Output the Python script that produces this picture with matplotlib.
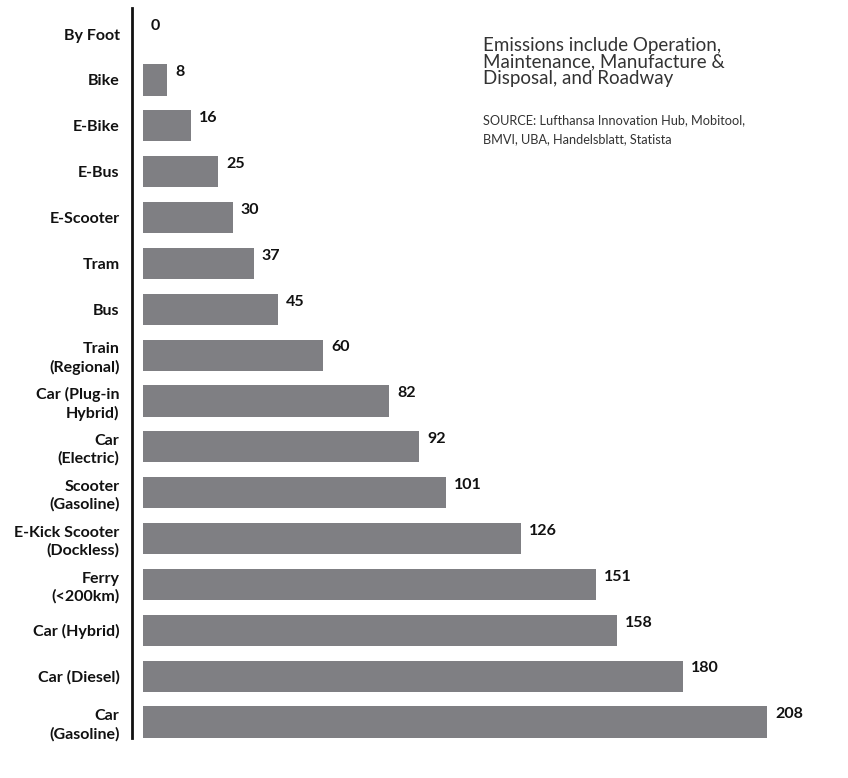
import matplotlib.pyplot as plt

# Modes of transport, top to bottom
modes = ["By Foot", "Bike", "E-Bike", "E-Bus", "E-Scooter", "Tram", "Bus",
         "Train\n(Regional)", "Car (Plug-in\nHybrid)", "Car\n(Electric)",
         "Scooter\n(Gasoline)", "E-Kick Scooter\n(Dockless)", "Ferry\n(<200km)",
         "Car (Hybrid)", "Car (Diesel)", "Car\n(Gasoline)"]
emissions = [0, 8, 16, 25, 30, 37, 45, 60, 82, 92, 101, 126, 151, 158, 180, 208]

note = "Emissions include Operation,\nMaintenance, Manufacture &\nDisposal, and Roadway"
source = "SOURCE: Lufthansa Innovation Hub, Mobitool,\nBMVI, UBA, Handelsblatt, Statista"

plt.rcParams['font.family'] = ['Lato', 'DejaVu Sans']

W, H = 848, 778
fig = plt.figure(figsize=(W / 100, H / 100), dpi=100)
ax = fig.add_axes([132 / W, 1 - 738 / H, (W - 132) / W, (738 - 8) / H])

ypos = list(range(len(modes)))
bar_h = 0.68
ax.barh(ypos, emissions, height=bar_h, left=0, color='#7f7f83')

for y, v in zip(ypos, emissions):
    ax.text(v + 2.6, y - bar_h / 2 + 0.02, str(v), ha='left', va='top',
            fontsize=11.5, fontweight='bold', color='#111111')

ax.set_xlim(-3.7, (W - 132) / 3.0 - 3.7)
ax.set_ylim(15.35, -0.57)
ax.set_yticks(ypos)
ax.set_yticklabels(modes, fontsize=11.5, fontweight='bold', color='#111111',
                   linespacing=1.3)
ax.tick_params(axis='y', length=0, pad=9)
ax.set_xticks([])
for s in ['top', 'right', 'bottom']:
    ax.spines[s].set_visible(False)
ax.spines['left'].set_linewidth(2)
ax.spines['left'].set_color('#111111')

fig.text(483 / W, 1 - 37 / H, note, ha='left', va='top', fontsize=13.5,
         color='#333333', linespacing=0.95)
fig.text(483 / W, 1 - 114 / H, source, ha='left', va='top', fontsize=9.2,
         color='#333333', linespacing=1.7)

fig.savefig("out.png", dpi=100)
